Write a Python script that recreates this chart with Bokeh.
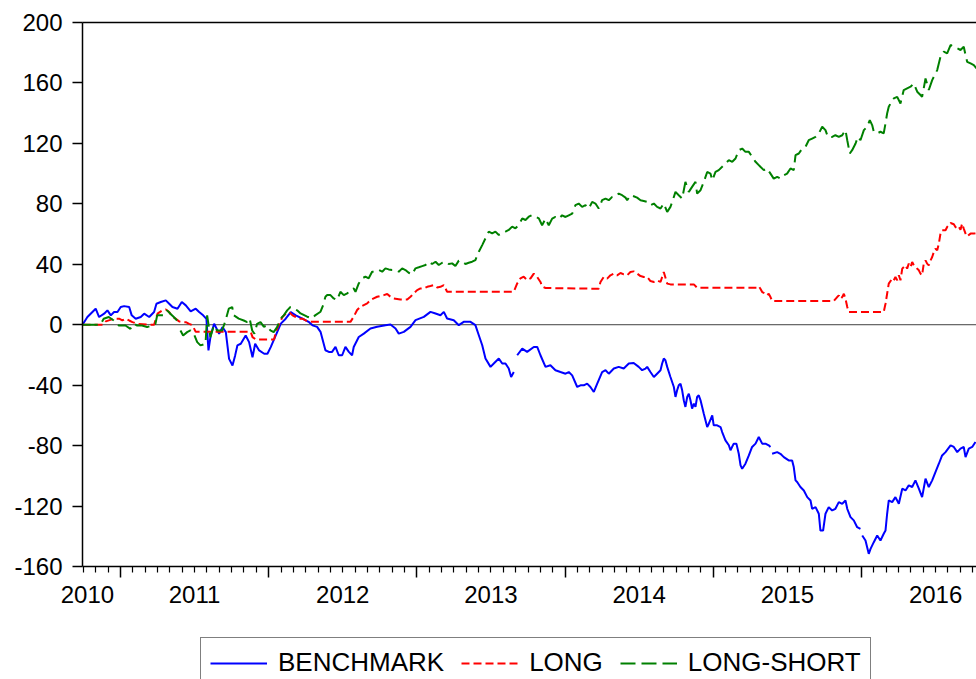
from bokeh.plotting import figure
from bokeh.layouts import column
from bokeh.models import (Range1d, FixedTicker, LinearAxis, Span, Legend,
                          LegendItem, CustomJSTickFormatter)
from bokeh.embed import file_html
from bokeh.resources import INLINE

nan = float("nan")

# ---------------- data (decimal years, cumulative returns) ----------------
BENCH_T = [
    2010.744, 2010.777, 2010.833, 2010.856, 2010.890, 2010.912, 2010.935, 2010.957,
    2010.980, 2011.002, 2011.025, 2011.059, 2011.076, 2011.103, 2011.137, 2011.160,
    2011.194, 2011.227, 2011.243, 2011.272, 2011.306, 2011.329, 2011.351, 2011.385,
    2011.414, 2011.441, 2011.474, 2011.508, 2011.531, 2011.558, 2011.580, 2011.594,
    2011.609, 2011.632, 2011.666, 2011.688, 2011.711, 2011.733, 2011.756, 2011.774,
    2011.789, 2011.812, 2011.845, 2011.868, 2011.891, 2011.909, 2011.936, 2011.970,
    2011.992, 2012.014, 2012.048, 2012.082, 2012.115, 2012.149, 2012.183, 2012.228,
    2012.273, 2012.296, 2012.327, 2012.350, 2012.383, 2012.406, 2012.428, 2012.451,
    2012.473, 2012.496, 2012.518, 2012.541, 2012.563, 2012.574, 2012.608, 2012.642,
    2012.687, 2012.732, 2012.788, 2012.822, 2012.856, 2012.878, 2012.912, 2012.957,
    2012.991, 2013.047, 2013.092, 2013.126, 2013.159, 2013.182, 2013.204, 2013.249,
    2013.283, 2013.316, 2013.362, 2013.395, 2013.418, 2013.441, 2013.463, 2013.497,
    2013.519, 2013.553, 2013.576, 2013.598, 2013.620, 2013.636, 2013.654, 2013.665,
    2013.677, 2013.711, 2013.744, 2013.789, 2013.812, 2013.834, 2013.868, 2013.901,
    2013.935, 2013.969, 2014.003, 2014.025, 2014.048, 2014.082, 2014.104, 2014.126,
    2014.149, 2014.171, 2014.194, 2014.217, 2014.250, 2014.273, 2014.295, 2014.329,
    2014.362, 2014.396, 2014.430, 2014.463, 2014.497, 2014.520, 2014.543, 2014.554,
    2014.576, 2014.599, 2014.621, 2014.644, 2014.655, 2014.666, 2014.677, 2014.689,
    2014.711, 2014.734, 2014.745, 2014.756, 2014.767, 2014.779, 2014.790, 2014.801,
    2014.812, 2014.824, 2014.835, 2014.846, 2014.857, 2014.869, 2014.880, 2014.891,
    2014.902, 2014.914, 2014.925, 2014.936, 2014.959, 2014.970, 2014.993, 2015.003,
    2015.026, 2015.049, 2015.060, 2015.082, 2015.105, 2015.116, 2015.138, 2015.156,
    2015.172, 2015.184, 2015.195, 2015.217, 2015.240, 2015.262, 2015.285, 2015.307,
    2015.330, 2015.352, 2015.374, 2015.386, 2015.391, 2015.397, 2015.431, 2015.453,
    2015.476, 2015.509, 2015.532, 2015.543, 2015.555, 2015.566, 2015.588, 2015.611,
    2015.634, 2015.656, 2015.667, 2015.690, 2015.712, 2015.723, 2015.741, 2015.757,
    2015.779, 2015.802, 2015.824, 2015.847, 2015.870, 2015.892, 2015.904, 2015.926,
    2015.948, 2015.971, 2015.993, 2015.999, 2016.005, 2016.027, 2016.049, 2016.061,
    2016.083, 2016.106, 2016.128, 2016.150, 2016.162, 2016.173, 2016.184, 2016.207,
    2016.229, 2016.252, 2016.275, 2016.297, 2016.319, 2016.342, 2016.364, 2016.387,
    2016.409, 2016.432, 2016.454, 2016.477, 2016.499, 2016.522, 2016.544, 2016.567,
    2016.601, 2016.623, 2016.646, 2016.668, 2016.690, 2016.702, 2016.724, 2016.747,
    2016.769,
]
BENCH_V = [
    0.0, 5.1, 10.6, 5.1, 7.3, 9.5, 6.2, 8.4,
    8.4, 11.7, 12.3, 11.7, 6.2, 4.0, 5.1, 7.3,
    5.1, 8.4, 13.9, 15.0, 16.1, 13.9, 11.7, 10.6,
    15.0, 12.8, 8.8, 10.6, 8.4, 6.2, 4.0, -17.0,
    -7.1, 0.7, -6.0, -1.6, -4.9, -22.6, -27.0, -20.3,
    -13.7, -12.6, -7.1, -11.5, -21.5, -12.6, -17.0, -19.2,
    -19.2, -14.8, -7.1, 0.7, 4.0, 8.4, 6.2, 4.0,
    1.7, -0.4, -1.4, -4.7, -16.9, -18.0, -18.0, -14.7,
    -20.2, -20.2, -14.7, -18.0, -20.2, -14.7, -8.1, -5.9,
    -2.5, -1.4, -0.3, 0.1, -2.5, -5.9, -4.7, -1.4,
    3.0, 5.2, 8.5, 7.4, 6.3, 8.5, 4.1, 3.0,
    -0.3, 1.9, 1.9, -0.3, -7.0, -13.6, -22.4, -27.9,
    -25.7, -22.4, -25.7, -25.7, -29.0, -34.6, -31.3, nan,
    -20.2, -15.8, -18.0, -14.7, -14.7, -20.2, -27.9, -26.8,
    -30.1, -31.3, -32.4, -31.3, -33.5, -41.2, -40.1, -40.1,
    -39.0, -41.2, -44.5, -39.0, -31.3, -30.1, -32.4, -29.0,
    -27.9, -29.0, -25.7, -25.3, -27.9, -30.1, -29.0, -27.9,
    -31.3, -34.6, -32.4, -30.1, -25.7, -22.4, -23.5, -27.9,
    -34.6, -41.2, -47.8, -43.4, -40.1, -39.0, -43.4, -50.0,
    -54.4, -47.8, -45.6, -50.0, -55.5, -52.2, -54.4, -47.8,
    -46.7, -50.0, -54.4, -58.9, -67.7, -65.5, -60.0, -66.6,
    -66.6, -67.7, -71.0, -76.5, -79.8, -83.1, -78.7, -78.7,
    -85.4, -93.1, -95.3, -92.0, -86.5, -80.9, -78.7, -74.3,
    -78.7, -78.7, -79.8, -80.9, nan, -85.4, -84.3, -85.4,
    -87.6, -89.8, -89.8, -94.2, -103.0, -104.1, -107.4, -109.7,
    -114.1, -116.3, -121.8, -120.7, -125.1, -136.2, -136.2, -125.1,
    -120.7, -122.9, -121.8, -117.4, -118.5, -116.3, -121.8, -127.3,
    -129.5, -134.0, -135.1, nan, -139.5, -142.8, -151.6, -148.3,
    -143.9, -139.5, -142.8, -138.3, -136.2, -125.1, -116.3, -117.4,
    -114.1, -118.5, -108.5, -109.7, -106.3, -107.4, -103.0, -108.5,
    -114.1, -101.9, -107.4, -103.0, -97.5, -92.0, -86.5, -84.3,
    -79.8, -80.9, -84.3, -82.0, -80.9, -87.6, -82.0, -80.9,
    -77.6,
]

LONG_T = [
    2010.744, 2010.879, 2010.901, 2010.957, 2010.991, 2011.013, 2011.036, 2011.059,
    2011.081, 2011.115, 2011.194, 2011.227, 2011.250, 2011.283, 2011.306, 2011.329,
    2011.351, 2011.373, 2011.396, 2011.418, 2011.441, 2011.464, 2011.486, 2011.508,
    2011.879, 2011.891, 2011.913, 2012.037, 2012.048, 2012.071, 2012.093, 2012.115,
    2012.138, 2012.161, 2012.183, 2012.206, 2012.228, 2012.250, 2012.282, 2012.552,
    2012.574, 2012.597, 2012.619, 2012.642, 2012.665, 2012.687, 2012.709, 2012.732,
    2012.777, 2012.800, 2012.822, 2012.844, 2012.889, 2012.935, 2012.957, 2012.979,
    2013.002, 2013.024, 2013.047, 2013.070, 2013.092, 2013.114, 2013.137, 2013.159,
    2013.182, 2013.204, 2013.654, 2013.677, 2013.699, 2013.721, 2013.744, 2013.767,
    2013.789, 2013.812, 2013.834, 2013.845, 2013.868, 2014.227, 2014.239, 2014.261,
    2014.284, 2014.306, 2014.329, 2014.351, 2014.374, 2014.396, 2014.419, 2014.441,
    2014.463, 2014.486, 2014.509, 2014.531, 2014.554, 2014.576, 2014.599, 2014.621,
    2014.644, 2014.666, 2014.689, 2014.711, 2014.869, 2014.891, 2015.296, 2015.307,
    2015.318, 2015.330, 2015.352, 2015.363, 2015.374, 2015.386, 2015.397, 2015.813,
    2015.836, 2015.847, 2015.858, 2015.870, 2015.881, 2015.892, 2015.904, 2015.915,
    2016.150, 2016.162, 2016.173, 2016.184, 2016.207, 2016.218, 2016.229, 2016.241,
    2016.252, 2016.263, 2016.275, 2016.297, 2016.308, 2016.319, 2016.331, 2016.342,
    2016.353, 2016.376, 2016.387, 2016.398, 2016.409, 2016.420, 2016.432, 2016.443,
    2016.454, 2016.466, 2016.477, 2016.488, 2016.499, 2016.511, 2016.522, 2016.533,
    2016.544, 2016.567, 2016.578, 2016.601, 2016.623, 2016.634, 2016.646, 2016.657,
    2016.668, 2016.679, 2016.690, 2016.702, 2016.713, 2016.736, 2016.758, 2016.776,
]
LONG_V = [
    0.0, 0.0, 2.2, 4.0, 4.0, 2.8, 4.0, 2.8,
    1.7, 0.6, 0.0, 0.0, 7.3, 9.5, 10.1, 8.4,
    5.1, 4.0, 2.2, 1.7, 1.7, 0.6, -0.4, -4.7,
    -4.7, -8.2, -9.7, -9.7, -4.9, 0.6, 5.1, 7.3,
    8.4, 6.2, 5.1, 4.0, 4.0, 2.8, 1.9, 1.9,
    5.3, 9.7, 11.9, 13.0, 14.1, 16.3, 17.4, 18.5,
    19.6, 20.3, 18.5, 17.4, 16.7, 16.7, 18.5, 20.7,
    22.9, 24.0, 24.0, 25.1, 25.6, 26.2, 24.7, 25.1,
    26.2, 21.8, 21.8, 27.3, 30.7, 31.8, 29.6, 30.7,
    33.8, 31.6, 28.3, 25.4, 24.3, 23.8, 28.3, 31.6,
    30.5, 32.7, 33.8, 32.7, 34.2, 33.3, 32.7, 34.9,
    35.3, 33.8, 32.2, 31.6, 31.6, 28.9, 28.3, 29.4,
    28.3, 34.9, 27.2, 26.7, 26.7, 24.5, 24.5, 25.4,
    23.8, 21.6, 20.5, 19.4, 20.5, 18.3, 15.7, 15.7,
    18.3, 19.4, 17.2, 18.3, 20.5, 17.2, 11.7, 8.4,
    8.4, 13.9, 20.5, 27.2, 30.5, 29.4, 31.6, 29.4,
    32.7, 29.4, 37.1, 39.3, 37.1, 40.4, 38.2, 41.5,
    39.3, 37.1, 36.0, 33.8, 32.7, 40.4, 42.6, 40.4,
    39.3, 42.6, 44.8, 48.1, 50.3, 49.2, 53.7, 60.3,
    62.5, 62.5, 64.7, 67.3, 66.5, 64.7, 63.6, 64.7,
    62.9, 66.9, 63.6, 60.3, 58.5, 60.3, 60.3, 60.7,
]

LS_T = [
    2010.746, 2010.865, 2010.887, 2010.921, 2010.955, 2010.989, 2011.034, 2011.067,
    2011.090, 2011.113, 2011.146, 2011.180, 2011.214, 2011.236, 2011.248, 2011.292,
    2011.315, 2011.337, 2011.360, 2011.382, 2011.393, 2011.405, 2011.423, 2011.450,
    2011.472, 2011.495, 2011.518, 2011.540, 2011.574, 2011.585, 2011.607, 2011.630,
    2011.652, 2011.686, 2011.709, 2011.731, 2011.754, 2011.765, 2011.798, 2011.832,
    2011.855, 2011.872, 2011.889, 2011.904, 2011.922, 2011.945, 2011.967, 2011.990,
    2012.012, 2012.034, 2012.057, 2012.080, 2012.102, 2012.125, 2012.147, 2012.169,
    2012.192, 2012.215, 2012.260, 2012.294, 2012.316, 2012.350, 2012.368, 2012.383,
    2012.395, 2012.417, 2012.439, 2012.462, 2012.484, 2012.507, 2012.530, 2012.552,
    2012.574, 2012.586, 2012.608, 2012.631, 2012.653, 2012.675, 2012.698, 2012.721,
    2012.743, 2012.766, 2012.788, 2012.810, 2012.833, 2012.856, 2012.878, 2012.901,
    2012.923, 2012.945, 2012.968, 2012.991, 2013.013, 2013.036, 2013.058, 2013.080,
    2013.103, 2013.126, 2013.148, 2013.171, 2013.193, 2013.215, 2013.238, 2013.260,
    2013.283, 2013.306, 2013.328, 2013.350, 2013.373, 2013.395, 2013.418, 2013.441,
    2013.463, 2013.485, 2013.508, 2013.530, 2013.553, 2013.576, 2013.598, 2013.620,
    2013.643, 2013.665, 2013.688, 2013.711, 2013.733, 2013.755, 2013.778, 2013.800,
    2013.823, 2013.845, 2013.868, 2013.890, 2013.913, 2013.935, 2013.957, 2013.980,
    2014.003, 2014.025, 2014.048, 2014.070, 2014.092, 2014.115, 2014.138, 2014.160,
    2014.183, 2014.205, 2014.227, 2014.250, 2014.273, 2014.295, 2014.318, 2014.340,
    2014.362, 2014.385, 2014.408, 2014.419, 2014.441, 2014.463, 2014.486, 2014.509,
    2014.531, 2014.554, 2014.576, 2014.599, 2014.621, 2014.644, 2014.666, 2014.689,
    2014.711, 2014.723, 2014.745, 2014.767, 2014.790, 2014.812, 2014.835, 2014.857,
    2014.880, 2014.891, 2014.914, 2014.936, 2014.959, 2014.981, 2014.993, 2015.015,
    2015.037, 2015.060, 2015.082, 2015.105, 2015.128, 2015.150, 2015.172, 2015.195,
    2015.217, 2015.240, 2015.262, 2015.285, 2015.307, 2015.318, 2015.341, 2015.363,
    2015.386, 2015.408, 2015.431, 2015.453, 2015.476, 2015.498, 2015.521, 2015.543,
    2015.555, 2015.577, 2015.600, 2015.622, 2015.644, 2015.667, 2015.690, 2015.712,
    2015.735, 2015.757, 2015.773, 2015.802, 2015.824, 2015.847, 2015.870, 2015.892,
    2015.904, 2015.921, 2015.937, 2015.960, 2015.975, 2015.993, 2016.016, 2016.038,
    2016.056, 2016.072, 2016.083, 2016.106, 2016.128, 2016.150, 2016.162, 2016.173,
    2016.184, 2016.196, 2016.207, 2016.218, 2016.241, 2016.263, 2016.285, 2016.308,
    2016.331, 2016.353, 2016.376, 2016.398, 2016.409, 2016.420, 2016.432, 2016.454,
    2016.477, 2016.499, 2016.511, 2016.533, 2016.555, 2016.578, 2016.601, 2016.623,
    2016.646, 2016.668, 2016.690, 2016.702, 2016.713, 2016.736, 2016.758, 2016.776,
]
LS_V = [
    0.0, 0.0, 4.0, 5.1, 2.8, -0.5, -0.5, -2.7,
    0.6, -0.5, -0.5, -1.6, -0.5, 0.6, 6.2, 6.2,
    9.5, 7.3, 5.1, 2.8, nan, -3.8, -7.1, -4.9,
    -3.8, -6.0, -11.5, -13.7, -12.6, 6.2, -8.2, -0.5,
    -3.8, -3.8, 2.8, 10.6, 11.7, 6.2, 4.0, 2.8,
    1.7, 4.0, -3.8, -6.0, 0.6, 1.7, -1.3, -0.5,
    -3.8, -4.9, -1.6, 4.0, 6.2, 9.5, 11.7, 10.6,
    9.5, 7.5, 5.3, 4.2, 6.4, 8.6, 13.0, 18.5,
    19.6, 19.6, 17.4, 16.3, 21.8, 19.6, 20.7, 22.9,
    24.0, 21.8, 27.3, 30.7, 31.8, 30.7, 35.1, 35.1,
    36.2, 35.1, 37.3, 36.6, 36.2, 36.2, 35.1, 37.3,
    36.2, 34.4, 33.3, 37.3, 38.0, 38.8, 39.5, 41.7,
    40.2, 41.7, 39.5, 41.0, 41.7, 40.2, 40.6, 38.8,
    42.4, 41.7, 40.2, 41.0, 41.7, 42.8, 48.3, 52.7,
    57.2, 61.6, 60.5, 61.6, 59.4, 60.5, 61.6, 62.7,
    64.9, 63.8, 66.0, 70.4, 69.3, 71.5, 72.6, 71.5,
    70.4, 65.8, 70.2, 65.8, 70.2, 71.3, 70.2, 72.4,
    71.3, 72.4, 73.5, 79.1, 80.2, 78.0, 79.1, 76.9,
    81.3, 80.2, 76.9, 82.4, 83.5, 82.4, 84.6, 85.0,
    86.8, 85.7, 84.1, 82.4, 85.7, 85.0, 84.1, 82.4,
    81.9, 81.3, 79.1, 80.2, 78.0, 76.9, 80.2, 74.6,
    78.0, 81.3, 87.9, 85.7, 83.5, 94.5, 87.9, 91.2,
    94.5, 86.8, 89.0, 94.5, 101.1, 100.0, 95.6, 101.1,
    102.3, 104.5, 106.7, 108.9, 107.8, 110.0, 115.5, 116.6,
    114.4, 114.4, 111.1, 107.8, 105.6, 104.5, 102.3, 103.4,
    100.0, 96.7, 97.8, 96.7, 98.9, 100.0, 103.4, 102.3,
    112.2, 113.3, 116.6, 117.7, 122.1, 123.2, 124.3, 126.6,
    131.0, 128.8, 124.3, 124.3, 125.4, 124.3, 125.4, 128.8,
    122.1, 113.3, 115.5, 119.9, 124.3, 122.1, 128.8, 131.0,
    135.4, 132.1, 127.7, 126.6, 127.7, 126.6, 133.2, 139.8,
    144.2, 146.4, 148.6, 149.8, 150.8, 146.4, 155.3, 156.4,
    157.5, 159.7, 154.2, 152.0, 150.8, 156.4, 163.0, 155.3,
    161.9, 166.3, 168.5, 177.4, 180.7, 179.6, 185.1, 184.0,
    182.9, 181.8, 184.0, 178.5, 174.0, 172.9, 171.8, 169.6,
]

Y_TICKS = [-160, -120, -80, -40, 0, 40, 80, 120, 160, 200]
Y_LABELS = ["-160", "-120", "-80", "-40", "0", "40", "80", "120", "160", "200"]
YEAR_BOUNDARIES = [2011, 2012, 2013, 2014, 2015, 2016]
YEAR_LABEL_POS = [2010.777, 2011.5, 2012.5, 2013.5, 2014.5, 2015.5, 2016.5]
YEAR_LABELS = ["2010", "2011", "2012", "2013", "2014", "2015", "2016"]
SERIES_NAMES = ["BENCHMARK", "LONG", "LONG-SHORT"]

X_START, X_END = 2010.744, 2016.776
MONTH_TICKS = [y + m / 12 for y in range(2010, 2017) for m in range(1, 12)
               if X_START - 0.001 <= y + m / 12 <= X_END]

FONT = "Liberation Sans"
COLORS = ["#0000FF", "#FF0000", "#008000"]
DASHES = ["solid", "8 4", "15 6"]
SERIES = [(BENCH_T, BENCH_V), (LONG_T, LONG_V), (LS_T, LS_V)]

# ---------------- main chart ----------------
p = figure(width=976, height=630, output_backend="svg", toolbar_location=None,
           x_range=Range1d(X_START, X_END), y_range=Range1d(-160, 200),
           min_border_left=82, min_border_right=0, min_border_top=22,
           min_border_bottom=64)
p.outline_line_color = None
p.xgrid.visible = False
p.ygrid.visible = False
p.background_fill_color = "white"
p.border_fill_color = "white"

ya = p.yaxis[0]
ya.ticker = FixedTicker(ticks=Y_TICKS)
ya.major_label_overrides = dict(zip(Y_TICKS, Y_LABELS))
ya.major_tick_out = 10
ya.major_tick_in = 0
ya.minor_tick_line_color = None
ya.axis_line_width = 1.5
ya.major_tick_line_width = 1.5
ya.major_label_standoff = 10
ya.major_label_text_font = FONT
ya.major_label_text_font_size = "24px"
ya.major_label_text_color = "black"

xa = p.xaxis[0]
xa.ticker = FixedTicker(ticks=YEAR_BOUNDARIES, minor_ticks=MONTH_TICKS)
xa.formatter = CustomJSTickFormatter(code="return ''")
xa.major_tick_out = 11
xa.major_tick_in = 0
xa.minor_tick_out = 6
xa.minor_tick_in = 0
xa.axis_line_width = 1.5
xa.major_tick_line_width = 1.5
xa.minor_tick_line_width = 1.2
xa.major_label_standoff = 0
xa.major_label_text_font_size = "1px"

xb = LinearAxis(ticker=FixedTicker(ticks=YEAR_LABEL_POS),
                major_label_overrides=dict(zip(YEAR_LABEL_POS, YEAR_LABELS)),
                axis_line_color=None, major_tick_line_color=None,
                minor_tick_line_color=None, major_tick_out=0, major_tick_in=0,
                minor_tick_out=0, minor_tick_in=0, major_label_standoff=8,
                major_label_text_font=FONT, major_label_text_font_size="24px",
                major_label_text_color="black")
p.add_layout(xb, "below")

xt = LinearAxis(ticker=FixedTicker(ticks=[]), axis_line_width=1.5,
                major_tick_line_color=None, minor_tick_line_color=None,
                major_label_text_font_size="1px")
p.add_layout(xt, "above")

p.add_layout(Span(location=0, dimension="width", line_color="#404040",
                  line_width=1, level="underlay"))

for (t, v), c, d in zip(SERIES, COLORS, DASHES):
    p.line(t, v, line_color=c, line_width=2, line_dash=d)

# ---------------- legend strip (same series, scrolled out of its view) ----------------
lg = figure(width=976, height=49, output_backend="svg", toolbar_location=None,
            x_range=p.x_range, y_range=Range1d(1000, 1001),
            x_axis_location=None, y_axis_location=None,
            min_border_left=82, min_border_right=0, min_border_top=0,
            min_border_bottom=0)
lg.outline_line_color = None
lg.xgrid.visible = False
lg.ygrid.visible = False
lg.background_fill_color = "white"
lg.border_fill_color = "white"

items = []
for name, (t, v), c, d in zip(SERIES_NAMES, SERIES, COLORS, DASHES):
    r = lg.line(t, v, line_color=c, line_width=2, line_dash=d)
    items.append(LegendItem(label=name, renderers=[r]))

legend = Legend(items=items, orientation="horizontal", location=(118, -9),
                glyph_width=57, glyph_height=20, label_standoff=11, spacing=17,
                padding=9, margin=0, border_line_color="black",
                border_line_width=1.5, label_text_font=FONT,
                label_text_font_size="26px", label_text_color="black",
                background_fill_color="white", background_fill_alpha=1.0)
lg.add_layout(legend)

layout = column(p, lg, spacing=0)
open("out.html", "w").write(file_html(layout, INLINE))
